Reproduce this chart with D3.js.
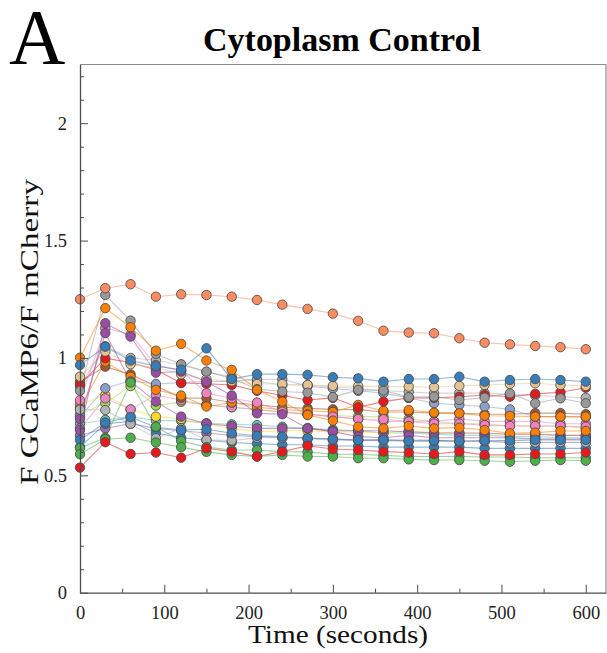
<!DOCTYPE html>
<html>
<head>
<meta charset="utf-8">
<script src="https://cdn.jsdelivr.net/npm/d3@7"></script>
<style>
  body { margin: 0; background: #fff; }
  text { font-family: "Liberation Serif", "Times New Roman", serif; }
</style>
</head>
<body>
<div id="chart"></div>
<script>
// time points (seconds)
var times = [0, 30, 60, 90, 120, 150, 180, 210, 240, 270, 300, 330, 360, 390, 420, 450, 480, 510, 540, 570, 600];

var xTicks = [0, 100, 200, 300, 400, 500, 600];
var xMinor = [50, 150, 250, 350, 450, 550];
var yTicks = [0, 0.5, 1, 1.5, 2];
var yMinor = [0.1, 0.2, 0.3, 0.4, 0.6, 0.7, 0.8, 0.9, 1.1, 1.2, 1.3, 1.4, 1.6, 1.7, 1.8, 1.9, 2.1, 2.2];

// one array per cell
var salmon1 = [1.25, 1.297, 1.314, 1.261, 1.271, 1.268, 1.261, 1.247, 1.227, 1.209, 1.189, 1.158, 1.116, 1.108, 1.105, 1.084, 1.065, 1.058, 1.051, 1.046, 1.037];
var blue1 = [0.97, 1.048, 0.989, 0.965, 0.95, 1.041, 0.91, 0.931, 0.931, 0.928, 0.918, 0.913, 0.899, 0.91, 0.91, 0.92, 0.899, 0.906, 0.91, 0.906, 0.899];
var orange1 = [1.001, 1.212, 1.131, 1.031, 1.06, 0.989, 0.949, 0.864, 0.814, 0.757, 0.733, 0.707, 0.70, 0.71, 0.70, 0.703, 0.693, 0.679, 0.682, 0.689, 0.689];
var gray1 = [0.86, 1.268, 1.159, 1.017, 0.973, 0.942, 0.913, 0.867, 0.857, 0.852, 0.833, 0.864, 0.861, 0.833, 0.835, 0.821, 0.831, 0.849, 0.807, 0.828, 0.807];
var gray2 = [0.78, 0.778, 0.719, 0.658, 0.70, 0.651, 0.648, 0.66, 0.66, 0.655, 0.65, 0.65, 0.648, 0.645, 0.645, 0.643, 0.645, 0.64, 0.64, 0.642, 0.64];
var gray3 = [0.88, 1.05, 1.0, 0.99, 0.97, 0.94, 0.92, 0.90, 0.885, 0.885, 0.875, 0.87, 0.86, 0.855, 0.85, 0.85, 0.85, 0.845, 0.84, 0.835, 0.83];
var purple1 = [0.693, 1.148, 1.091, 0.937, 0.942, 0.899, 0.84, 0.764, 0.76, 0.70, 0.686, 0.665, 0.66, 0.67, 0.66, 0.66, 0.66, 0.66, 0.655, 0.655, 0.655];
var purple2 = [0.74, 1.106, 0.90, 0.814, 0.75, 0.72, 0.71, 0.70, 0.70, 0.70, 0.69, 0.69, 0.69, 0.685, 0.68, 0.68, 0.68, 0.675, 0.675, 0.67, 0.67];
var purple3 = [0.67, 0.70, 0.72, 0.70, 0.69, 0.68, 0.67, 0.665, 0.66, 0.66, 0.655, 0.65, 0.65, 0.65, 0.65, 0.645, 0.645, 0.64, 0.64, 0.64, 0.64];
var pink1 = [0.82, 1.127, 1.10, 0.970, 0.945, 0.85, 0.828, 0.81, 0.771, 0.76, 0.75, 0.74, 0.739, 0.729, 0.72, 0.72, 0.714, 0.71, 0.71, 0.71, 0.707];
var pink2 = [0.70, 0.828, 0.781, 0.842, 0.82, 0.80, 0.79, 0.78, 0.77, 0.76, 0.75, 0.74, 0.73, 0.73, 0.73, 0.74, 0.73, 0.73, 0.73, 0.72, 0.72];
var tan1 = [0.92, 1.027, 0.973, 0.96, 0.93, 0.91, 0.90, 0.889, 0.889, 0.885, 0.881, 0.88, 0.878, 0.878, 0.875, 0.881, 0.885, 0.889, 0.892, 0.885, 0.881];
var red1 = [0.885, 0.999, 0.98, 0.95, 0.893, 0.89, 0.885, 0.86, 0.84, 0.821, 0.83, 0.79, 0.814, 0.83, 0.83, 0.835, 0.842, 0.835, 0.847, 0.854, 0.873];
var red2 = [0.533, 0.641, 0.591, 0.597, 0.575, 0.615, 0.601, 0.58, 0.601, 0.626, 0.612, 0.608, 0.601, 0.597, 0.591, 0.601, 0.587, 0.587, 0.591, 0.591, 0.597];
var brown1 = [0.90, 0.963, 0.93, 0.88, 0.83, 0.828, 0.81, 0.80, 0.79, 0.785, 0.781, 0.78, 0.77, 0.77, 0.765, 0.765, 0.76, 0.76, 0.765, 0.765, 0.76];
var orange2 = [0.787, 0.984, 0.92, 0.864, 0.84, 0.793, 0.81, 0.79, 0.78, 0.775, 0.77, 0.80, 0.775, 0.778, 0.767, 0.764, 0.754, 0.753, 0.75, 0.75, 0.75];
var periwinkle1 = [0.75, 0.871, 0.903, 0.889, 0.895, 0.90, 0.90, 0.909, 0.909, 0.88, 0.87, 0.86, 0.85, 0.83, 0.807, 0.80, 0.793, 0.781, 0.75, 0.75, 0.748];
var yellow1 = [0.80, 0.842, 0.78, 0.75, 0.74, 0.72, 0.70, 0.686, 0.69, 0.69, 0.685, 0.685, 0.68, 0.69, 0.68, 0.68, 0.675, 0.675, 0.675, 0.67, 0.67];
var lime1 = [0.76, 0.807, 0.88, 0.797, 0.813, 0.80, 0.79, 0.78, 0.77, 0.76, 0.755, 0.75, 0.75, 0.74, 0.73, 0.72, 0.72, 0.71, 0.71, 0.71, 0.70];
var teal1 = [0.72, 0.736, 0.75, 0.733, 0.733, 0.722, 0.717, 0.714, 0.707, 0.70, 0.695, 0.69, 0.68, 0.68, 0.675, 0.67, 0.67, 0.665, 0.665, 0.66, 0.66];
var blue2 = [0.65, 0.725, 0.748, 0.705, 0.693, 0.696, 0.679, 0.668, 0.665, 0.658, 0.654, 0.65, 0.651, 0.646, 0.648, 0.646, 0.648, 0.648, 0.651, 0.651, 0.651];
var blue3 = [0.62, 0.72, 0.73, 0.68, 0.66, 0.65, 0.64, 0.635, 0.63, 0.63, 0.625, 0.625, 0.62, 0.62, 0.62, 0.62, 0.615, 0.615, 0.615, 0.615, 0.615];
var green1 = [0.616, 0.66, 0.895, 0.707, 0.646, 0.62, 0.608, 0.608, 0.601, 0.60, 0.59, 0.59, 0.585, 0.58, 0.58, 0.58, 0.578, 0.578, 0.575, 0.575, 0.575];
var green2 = [0.59, 0.654, 0.66, 0.64, 0.62, 0.60, 0.587, 0.58, 0.587, 0.58, 0.58, 0.573, 0.573, 0.568, 0.565, 0.565, 0.562, 0.558, 0.562, 0.565, 0.562];

var seriesValues = [gray3, purple3, blue3, teal1, yellow1, lime1, pink2, brown1, periwinkle1, orange2, red1, tan1,
  pink1, purple2, purple1, gray2, gray1, orange1, blue2, green1, green2, red2, blue1, salmon1];
var seriesColors = ["#b3b3b3", "#9a6fb0", "#377eb8", "#66c2a5", "#ffd92f", "#a6d854", "#e78ac3", "#a65628", "#8da0cb", "#ff7f00", "#e41a1c", "#e5c494",
  "#f781bf", "#984ea3", "#984ea3", "#b3b3b3", "#999999", "#ff7f00", "#377eb8", "#4daf4a", "#4daf4a", "#e41a1c", "#377eb8", "#fc8d62"];

var width = 607, height = 653;
var svg = d3.select("#chart").append("svg")
  .attr("width", width).attr("height", height);

var x = d3.scaleLinear().domain([0, 624]).range([80, 606]);
var y = d3.scaleLinear().domain([0, 2.25]).range([592.7, 64.5]);

// frame (top / right)
svg.append("line").attr("x1", 80).attr("x2", 606).attr("y1", 64.5).attr("y2", 64.5)
  .attr("stroke", "#8a8a8a").attr("stroke-width", 1.2);
svg.append("line").attr("x1", 606).attr("x2", 606).attr("y1", 64.5).attr("y2", 592.7)
  .attr("stroke", "#8a8a8a").attr("stroke-width", 1.2);

var line = d3.line()
  .x(function(d, i) { return x(times[i]); })
  .y(function(d) { return y(d); });

svg.append("g").attr("class", "lines")
  .selectAll("path")
  .data(seriesValues)
  .enter().append("path")
  .attr("d", line)
  .attr("fill", "none")
  .attr("stroke", function(d, i) { return seriesColors[i]; })
  .attr("stroke-width", 1.1)
  .attr("stroke-opacity", 0.55);

var dots = svg.append("g").attr("class", "dots");
seriesValues.forEach(function(vals, i) {
  dots.append("g")
    .selectAll("circle")
    .data(vals)
    .enter().append("circle")
    .attr("cx", function(d, j) { return x(times[j]); })
    .attr("cy", function(d) { return y(d); })
    .attr("r", 4.7)
    .attr("fill", seriesColors[i])
    .attr("stroke", "#4a4a4a")
    .attr("stroke-opacity", 0.85)
    .attr("stroke-width", 1);
});

// axes
var axisColor = "#4d4d4d";
var fmt = function(d) { return String(d); };

svg.append("g").attr("transform", "translate(0,592.7)")
  .call(d3.axisBottom(x).tickValues(xTicks).tickFormat(fmt).tickSizeInner(-8).tickSizeOuter(0).tickPadding(13));
svg.append("g").attr("transform", "translate(0,592.7)")
  .call(d3.axisBottom(x).tickValues(xMinor).tickFormat("").tickSizeInner(-4).tickSizeOuter(0))
  .select(".domain").remove();

svg.append("g").attr("transform", "translate(80,0)")
  .call(d3.axisLeft(y).tickValues(yTicks).tickFormat(fmt).tickSizeInner(-8).tickSizeOuter(0).tickPadding(13));
svg.append("g").attr("transform", "translate(80,0)")
  .call(d3.axisLeft(y).tickValues(yMinor).tickFormat("").tickSizeInner(-4).tickSizeOuter(0))
  .select(".domain").remove();

svg.selectAll(".domain").attr("stroke", axisColor).attr("stroke-width", 1.3);
svg.selectAll(".tick line").attr("stroke", axisColor);
svg.selectAll(".tick text")
  .attr("fill", "#222")
  .style("font-family", "'Liberation Serif', serif")
  .style("font-size", "18.5px");

// labels
svg.append("text")
  .attr("x", 338).attr("y", 643)
  .attr("text-anchor", "middle")
  .attr("textLength", 180).attr("lengthAdjust", "spacingAndGlyphs")
  .style("font-size", "26px").attr("fill", "#111")
  .text("Time (seconds)");

svg.append("text")
  .attr("transform", "translate(38,332) rotate(-90)")
  .attr("text-anchor", "middle")
  .attr("textLength", 306).attr("lengthAdjust", "spacingAndGlyphs")
  .style("font-size", "25px").attr("fill", "#111")
  .text("F GCaMP6/F mCherry");

svg.append("text")
  .attr("x", 342).attr("y", 51)
  .attr("text-anchor", "middle")
  .attr("textLength", 278).attr("lengthAdjust", "spacingAndGlyphs")
  .style("font-size", "33px").style("font-weight", "bold").attr("fill", "#000")
  .text("Cytoplasm Control");

svg.append("text")
  .attr("x", 9).attr("y", 63)
  .style("font-size", "78px").attr("fill", "#000")
  .text("A");
</script>
</body>
</html>
